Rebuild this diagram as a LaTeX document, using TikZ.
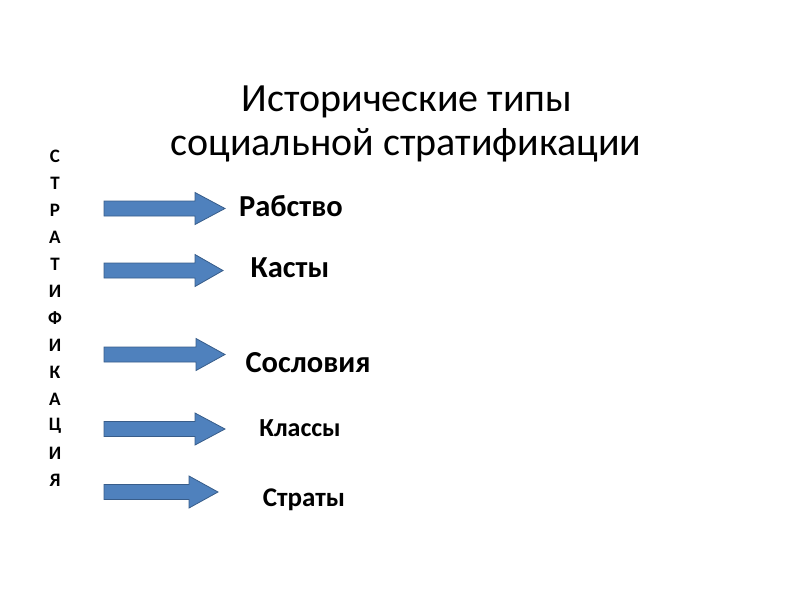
\documentclass[tikz,border=0pt]{standalone}
\usepackage{fontspec}
\setmainfont{Carlito}
\definecolor{arrowblue}{HTML}{4F81BD}
\definecolor{arrowedge}{HTML}{385D8A}
\tikzset{
  blockarrow/.style={fill=arrowblue, draw=arrowedge, line width=0.8pt, line join=miter},
  typelabel/.style={font=\bfseries, anchor=base, inner sep=0pt},
  titleline/.style={font=\fontsize{40}{44}\selectfont, anchor=base, inner sep=0pt}
}
\begin{document}
\begin{tikzpicture}[x=1pt, y=-1pt]
  \useasboundingbox (0,0) rectangle (800,600);
  \def\sh{7.5}
  \def\hh{16}
  \def\xs{104}
  % title
  \node[titleline] (titleA) at (407,111) {Исторические типы};
  \node[titleline] (titleB) at (406,155) {социальной стратификации};
  % vertical word
  \foreach \l [count=\i] in {С,Т,Р,А,Т,И,Ф,И,К,А,Ц,И,Я}
    \node[font=\bfseries\fontsize{19}{19}\selectfont, inner sep=0pt] (strat-\i) at (55,{156+27*(\i-1)}) {\l};
  % block arrows
  \foreach \y/\xh/\xt in {208.5/195/225, 270.5/195/223, 354.5/196/225, 429/195/225, 492/189/218}
    \draw[blockarrow] (\xs,\y-\sh) -- (\xh,\y-\sh) -- (\xh,\y-\hh) -- (\xt,\y)
      -- (\xh,\y+\hh) -- (\xh,\y+\sh) -- (\xs,\y+\sh) -- cycle;
  % types
  \node[typelabel, font=\bfseries\fontsize{30.5}{30.5}\selectfont] (slavery) at (291,216) {Рабство};
  \node[typelabel, font=\bfseries\fontsize{30.5}{30.5}\selectfont] (castes) at (290,277) {Касты};
  \node[typelabel, font=\bfseries\fontsize{30.5}{30.5}\selectfont] (estates) at (308,372) {Сословия};
  \node[typelabel, font=\bfseries\fontsize{26}{26}\selectfont] (classes) at (300,436) {Классы};
  \node[typelabel, font=\bfseries\fontsize{27}{27}\selectfont] (strata) at (304,506) {Страты};
\end{tikzpicture}
\end{document}
